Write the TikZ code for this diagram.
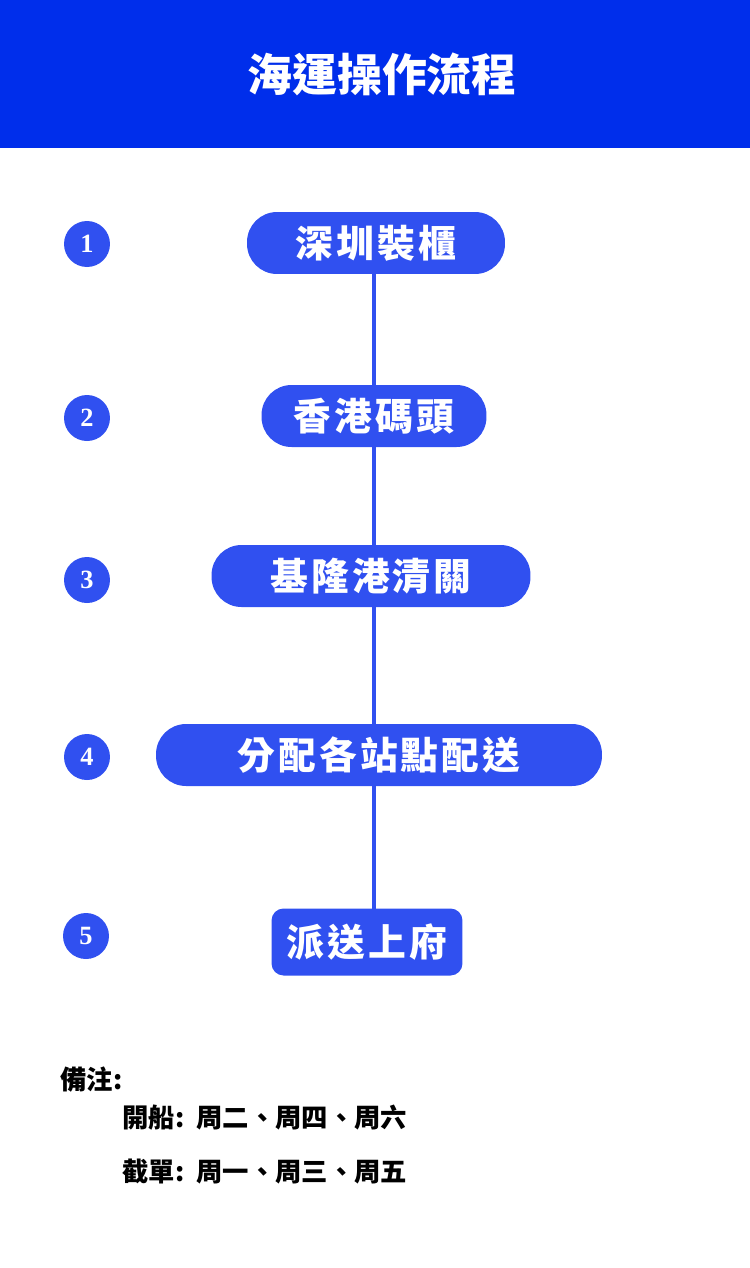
\documentclass[tikz,border=0pt]{standalone}
\usepackage{fontspec}
\newfontfamily\cjk{Noto Sans CJK TC}
\newfontfamily\cjkwide{Noto Sans CJK TC}[LetterSpace=8]
\newfontfamily\numfont{Liberation Serif}
\definecolor{headblue}{RGB}{0,46,235}
\definecolor{stepblue}{RGB}{48,80,240}

\begin{document}
\begin{tikzpicture}[x=0.02cm,y=-0.02cm,
   stagebox/.style={fill=stepblue,text=white,rounded corners=0.6cm,
      minimum height=1.24cm,inner sep=0pt,font=\cjkwide\bfseries\fontsize{21.5}{21.5}\selectfont},
   numdot/.style={circle,fill=stepblue,text=white,minimum size=0.92cm,inner sep=0pt,
      font=\numfont\bfseries\fontsize{15}{15}\selectfont},
   notetext/.style={anchor=west,inner sep=0pt,font=\cjk\bfseries\fontsize{15}{15}\selectfont},
   link/.style={stepblue,line width=2.2pt}]
\useasboundingbox (0,0) rectangle (750,1268);
% header
\fill[headblue] (0,0) rectangle (750,148);
\node[text=white,font=\cjk\bfseries\fontsize{25.5}{25.5}\selectfont] (title) at (382,74) {海運操作流程};
% connectors first, boxes drawn on top
\coordinate (top) at (374,270);
\coordinate (bottom) at (374,912);
\draw[link] (top) -- (bottom);
% stages
\node[stagebox,minimum width=5.16cm] (load) at (376,243) {深圳裝櫃};
\node[stagebox,minimum width=4.5cm] (pier) at (374,416) {香港碼頭};
\node[stagebox,minimum width=6.38cm] (customs) at (371,576) {基隆港清關};
\node[stagebox,minimum width=8.92cm] (dispatch) at (379,755) {分配各站點配送};
\node[stagebox,minimum width=3.82cm,minimum height=1.34cm,rounded corners=0.24cm] (deliver) at (367,942) {派送上府};
% step numbers
\node[numdot] (n1) at (87,244) {1};
\node[numdot] (n2) at (87,418) {2};
\node[numdot] (n3) at (87,580) {3};
\node[numdot] (n4) at (87,757) {4};
\node[numdot] (n5) at (86,936) {5};
% notes
\node[notetext] (remark) at (60,1080) {備注:};
\node[notetext] (sail) at (122,1118) {開船:\ \ 周二、周四、周六};
\node[notetext] (cutoff) at (122,1172) {截單:\ \ 周一、周三、周五};
\end{tikzpicture}
\end{document}
